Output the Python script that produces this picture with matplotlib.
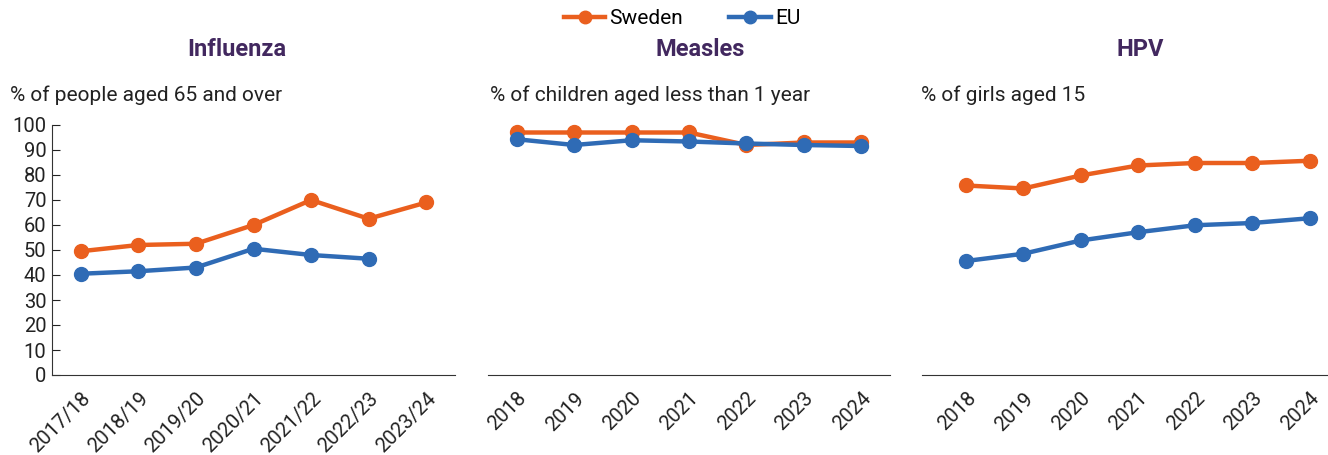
import matplotlib
matplotlib.use("Agg")
import matplotlib.pyplot as plt
from matplotlib.lines import Line2D

plt.rcParams["font.family"] = ["Roboto", "DejaVu Sans"]

FLU_YEARS = ["2017/18", "2018/19", "2019/20", "2020/21", "2021/22", "2022/23", "2023/24"]
FLU_SWEDEN = [49.5, 52, 52.5, 60, 70, 62.5, 69]
FLU_EU = [40.5, 41.5, 43, 50.5, 48, 46.5]

YEARS = ["2018", "2019", "2020", "2021", "2022", "2023", "2024"]
MEASLES_SWEDEN = [97, 97, 97, 97, 92, 93, 93]
MEASLES_EU = [94.3, 92, 93.9, 93.4, 92.6, 92, 91.6]

HPV_SWEDEN = [75.8, 74.6, 79.8, 83.8, 84.8, 84.8, 85.7]
HPV_EU = [45.6, 48.5, 53.8, 57.1, 59.9, 60.8, 62.7]

PANELS = [
    ("Influenza", "% of people aged 65 and over", FLU_YEARS, FLU_SWEDEN, FLU_EU),
    ("Measles", "% of children aged less than 1 year", YEARS, MEASLES_SWEDEN, MEASLES_EU),
    ("HPV", "% of girls aged 15", YEARS, HPV_SWEDEN, HPV_EU),
]

ORANGE = "#EA5F1E"
BLUE = "#2F6BB5"
PURPLE = "#42285F"
TXT = "#222222"
W, H = 1328, 455

fig = plt.figure(figsize=(W / 100, H / 100), dpi=100)

# axes boxes in pixels: left, right, xlim
boxes = [(52, 455, (-0.5, 6.5)), (488, 890, (-0.5, 6.5)), (922, 1328, (-0.77, 6.32))]
title_x = [237, 700, 1140]
sub_x = [10, 490, 921]
top, bottom = 125, 375

for i, ((title, sub, cats, sw, eu), (l, r, xl)) in enumerate(zip(PANELS, boxes)):
    ax = fig.add_axes([l / W, 1 - bottom / H, (r - l) / W, (bottom - top) / H])
    ax.plot(range(len(sw)), sw, "-o", color=ORANGE, lw=3.2, ms=10, clip_on=False, zorder=3)
    ax.plot(range(len(eu)), eu, "-o", color=BLUE, lw=3.2, ms=10, clip_on=False, zorder=4)
    ax.set_xlim(*xl)
    ax.set_ylim(0, 100)
    ax.set_xticks(range(len(cats)))
    ax.set_xticklabels(cats, rotation=45, ha="right", rotation_mode="anchor", fontsize=14.5,
                       color=TXT)
    ax.tick_params(axis="x", length=0, pad=10)
    for s in ["top", "right"]:
        ax.spines[s].set_visible(False)
    ax.spines["bottom"].set_color("#333333")
    if i == 0:
        ax.set_yticks(range(0, 101, 10))
        ax.tick_params(axis="y", direction="in", length=6, labelsize=14.5, colors=TXT, pad=4)
        ax.spines["left"].set_color("#333333")
    else:
        ax.set_yticks([])
        ax.spines["left"].set_visible(False)
    fig.text(title_x[i] / W, 1 - 50 / H, title, ha="center", va="center",
             fontsize=17, fontweight="bold", color=PURPLE)
    fig.text(sub_x[i] / W, 1 - 95 / H, sub, ha="left", va="center", fontsize=15, color=TXT)

handles = [Line2D([0], [0], color=ORANGE, lw=3.2, marker="o", ms=9),
           Line2D([0], [0], color=BLUE, lw=3.2, marker="o", ms=9)]
fig.legend(handles, ["Sweden", "EU"], loc="center", bbox_to_anchor=(682 / W, 1 - 19 / H),
           ncol=2, frameon=False, fontsize=15, handlelength=2.0, handletextpad=0.2,
           columnspacing=2.2)

fig.savefig("out.png", dpi=100, facecolor="white")
